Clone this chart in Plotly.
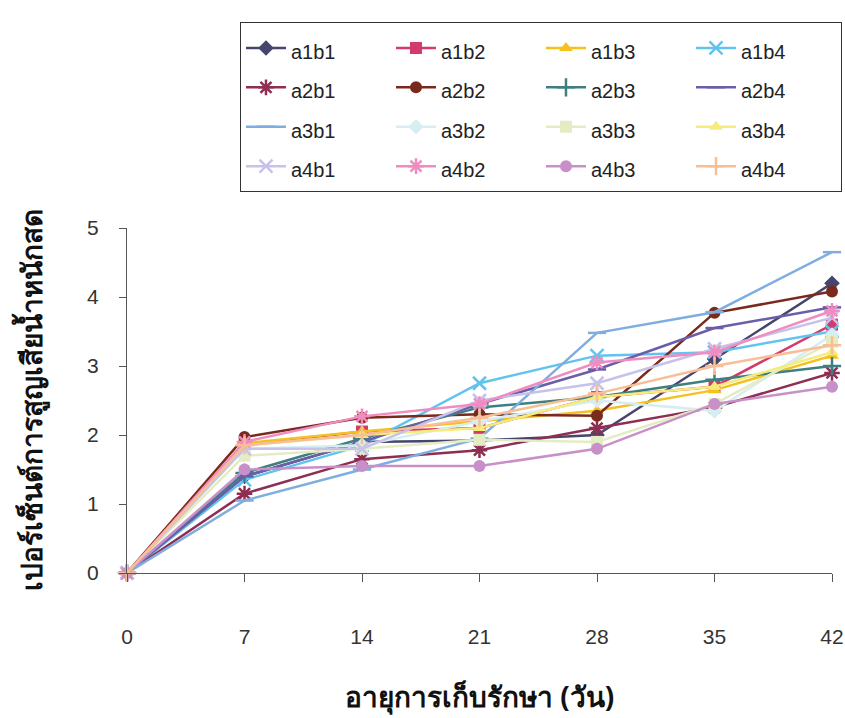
import plotly.graph_objects as go

# storage days
days = [0, 7, 14, 21, 28, 35, 42]

# percent fresh-weight loss per treatment
a1b1 = [0, 1.40, 1.90, 1.92, 2.00, 3.10, 4.20]
a1b2 = [0, 1.85, 2.05, 2.10, 2.55, 2.70, 3.60]
a1b3 = [0, 1.88, 2.05, 2.20, 2.35, 2.65, 3.15]
a1b4 = [0, 1.35, 1.85, 2.75, 3.15, 3.20, 3.50]
a2b1 = [0, 1.15, 1.65, 1.78, 2.10, 2.40, 2.90]
a2b2 = [0, 1.97, 2.25, 2.30, 2.28, 3.77, 4.08]
a2b3 = [0, 1.45, 1.95, 2.40, 2.55, 2.80, 3.00]
a2b4 = [0, 1.40, 1.90, 2.45, 2.95, 3.55, 3.85]
a3b1 = [0, 1.05, 1.50, 1.95, 3.48, 3.78, 4.65]
a3b2 = [0, 1.80, 1.85, 2.20, 2.50, 2.35, 3.45]
a3b3 = [0, 1.70, 1.80, 1.93, 1.90, 2.45, 3.35]
a3b4 = [0, 1.85, 2.00, 2.10, 2.55, 2.70, 3.20]
a4b1 = [0, 1.80, 1.80, 2.50, 2.75, 3.25, 3.70]
a4b2 = [0, 1.90, 2.27, 2.45, 3.05, 3.20, 3.80]
a4b3 = [0, 1.50, 1.55, 1.55, 1.80, 2.45, 2.70]
a4b4 = [0, 1.85, 2.00, 2.25, 2.60, 3.00, 3.30]

series = [
    ("a1b1", a1b1, "#45456d", "diamond"),
    ("a1b2", a1b2, "#d23c6a", "square"),
    ("a1b3", a1b3, "#f5c11f", "triangle-up"),
    ("a1b4", a1b4, "#62c4ee", "x-thin-open"),
    ("a2b1", a2b1, "#8e2e52", "asterisk-open"),
    ("a2b2", a2b2, "#7a2a1c", "circle"),
    ("a2b3", a2b3, "#3f7f80", "cross-thin-open"),
    ("a2b4", a2b4, "#6a5ea8", "line-ew-open"),
    ("a3b1", a3b1, "#7eaee0", "line-ew-open"),
    ("a3b2", a3b2, "#d6eef2", "diamond"),
    ("a3b3", a3b3, "#e4ecc4", "square"),
    ("a3b4", a3b4, "#f6ec7c", "triangle-up"),
    ("a4b1", a4b1, "#c6c2ea", "x-thin-open"),
    ("a4b2", a4b2, "#f08cc0", "asterisk-open"),
    ("a4b3", a4b3, "#c890c8", "circle"),
    ("a4b4", a4b4, "#f8bf96", "cross-thin-open"),
]

fig = go.Figure()
for name, vals, color, sym in series:
    open_sym = sym.endswith("-open")
    fig.add_trace(go.Scatter(
        x=days, y=vals, mode="lines+markers",
        name=f"<span style='font-size:20px'>{name}</span>",
        line=dict(color=color, width=2.5),
        marker=dict(symbol=sym, size=12 if not open_sym else 13, color=color,
                    line=dict(color=color, width=2.5 if open_sym else 0)),
        cliponaxis=False,
    ))

axis_font = dict(family="Liberation Sans Narrow, Liberation Sans, Arial, sans-serif",
                 size=21, color="#333333")
title_font = dict(family="Noto Sans, Liberation Sans, sans-serif", size=28, color="#111111")

fig.update_layout(
    width=845, height=718,
    margin=dict(l=127, r=13, t=228, b=145),
    paper_bgcolor="white", plot_bgcolor="white",
    showlegend=True,
    legend=dict(
        orientation="h", xref="container", yref="container",
        x=0.284, y=0.969, xanchor="left", yanchor="top",
        bgcolor="white", bordercolor="#333333", borderwidth=1,
        # large base size sets the row pitch; entry text is sized in the span
        font=dict(family="Liberation Sans, Arial, sans-serif", size=28, color="#222222"),
        entrywidth=95, itemwidth=40,
    ),
    xaxis=dict(
        range=[0, 42], tickvals=days, ticktext=[str(d) for d in days],
        automargin=False,
        showline=True, linecolor="#555555", linewidth=1.2,
        ticks="outside", ticklen=8, tickcolor="#555555",
        ticklabelstandoff=37, showgrid=False, zeroline=False,
        tickfont=axis_font,
        title=dict(text="<b>อายุการเก็บรักษา (วัน)</b>", standoff=40, font=title_font),
    ),
    yaxis=dict(
        range=[0, 5], dtick=1,
        automargin=False,
        showline=True, linecolor="#555555", linewidth=1.2,
        ticks="outside", ticklen=7, tickcolor="#555555",
        ticklabelstandoff=16, showgrid=False, zeroline=False,
        tickfont=axis_font,
        title=dict(text="<b>เปอร์เซ็นต์การสูญเสียน้ำหนักสด</b>", standoff=36, font=title_font),
    ),
)

fig.write_html("out.html")
